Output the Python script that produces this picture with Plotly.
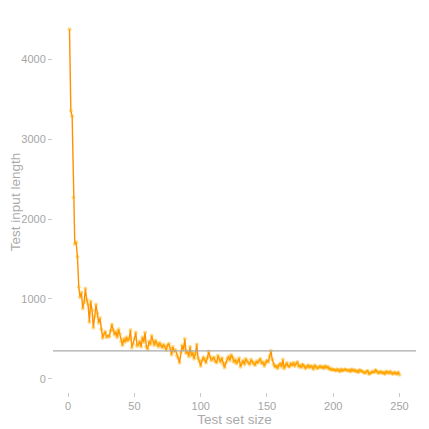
import plotly.graph_objects as go

test_set_size = list(range(1, 251))

input_length = [
    4380, 3360, 3290, 2270, 1690, 1710, 1530, 1150, 1020, 1080,
    880, 960, 1130, 990, 930, 710, 970, 860, 640, 780,
    930, 820, 700, 760, 620, 510, 560, 590, 520, 540,
    530, 600, 680, 610, 550, 590, 520, 620, 560, 470,
    420, 500, 460, 520, 480, 500, 610, 390, 440, 500,
    580, 410, 430, 470, 400, 520, 460, 580, 400, 370,
    470, 430, 540, 460, 420, 480, 440, 400, 450, 420,
    390, 430, 400, 360, 420, 440, 380, 300, 400, 340,
    360, 290, 260, 200, 330, 420, 360, 500, 320, 340,
    280, 400, 290, 330, 250, 310, 430, 260, 220, 160,
    230, 270, 240, 200, 260, 340, 280, 230, 250, 270,
    220, 200, 290, 240, 210, 260, 180, 140, 200, 250,
    280, 230, 300, 270, 210, 240, 190, 220, 260, 150,
    200, 230, 180, 250, 220, 200, 180, 240, 210, 190,
    170, 220, 200, 230, 250, 190, 210, 160, 200, 230,
    210, 280, 350, 240, 180, 150, 160, 130, 170, 190,
    150, 240, 130, 170, 200, 160, 150, 190, 170, 200,
    160, 190, 210, 150, 170, 140, 180, 160, 130, 150,
    170, 140, 160, 150, 120, 170, 150, 130, 140, 160,
    140, 150, 130, 160, 140, 150, 120, 130, 110, 120,
    110, 100, 120, 110, 90, 120, 100, 110, 120, 110,
    100, 110, 90, 120, 100, 110, 90, 100, 80, 110,
    100, 90, 80, 70, 90, 100, 60, 70, 80, 90,
    80, 110, 90, 70, 80, 90, 70, 80, 60, 90,
    80, 70, 90, 70, 60, 80, 70, 60, 80, 50,
]

threshold = 350

fig = go.Figure()
fig.add_trace(go.Scatter(
    x=test_set_size, y=input_length, mode="lines+markers",
    line=dict(color="rgb(255,145,0)", width=1.4),
    marker=dict(color="rgba(255,170,0,0.45)", size=4),
    showlegend=False,
))
fig.add_hline(y=threshold, line=dict(color="rgb(170,170,170)", width=1.3))

tick_font = dict(family="Liberation Sans, Arial", size=11, color="rgb(165,165,165)")
title_font = dict(family="Liberation Sans, Arial", size=13.5, color="rgb(170,170,170)")

# page body has an 8px margin, so the figure sits 8px right and down
fig.update_layout(
    width=429, height=429,
    margin={"l": 45, "r": 21, "t": 4, "b": 45},
    plot_bgcolor="white", paper_bgcolor="white",
)
fig.update_xaxes(
    range=[-11.45, 262.45], tickvals=[0, 50, 100, 150, 200, 250],
    showgrid=False, zeroline=False, showline=False, automargin=False,
    ticks="outside", ticklen=4, tickcolor="rgb(200,200,200)",
    tickfont=tick_font, title=dict(text="Test set size", font=title_font, standoff=0),
)
fig.update_yaxes(
    range=[-166, 4596], tickvals=[0, 1000, 2000, 3000, 4000],
    showgrid=False, zeroline=False, showline=False, automargin=False,
    ticks="outside", ticklen=4, tickcolor="rgb(200,200,200)",
    tickfont=tick_font, title=dict(text="Test input length", font=title_font, standoff=0),
)

fig.write_html("out.html")
